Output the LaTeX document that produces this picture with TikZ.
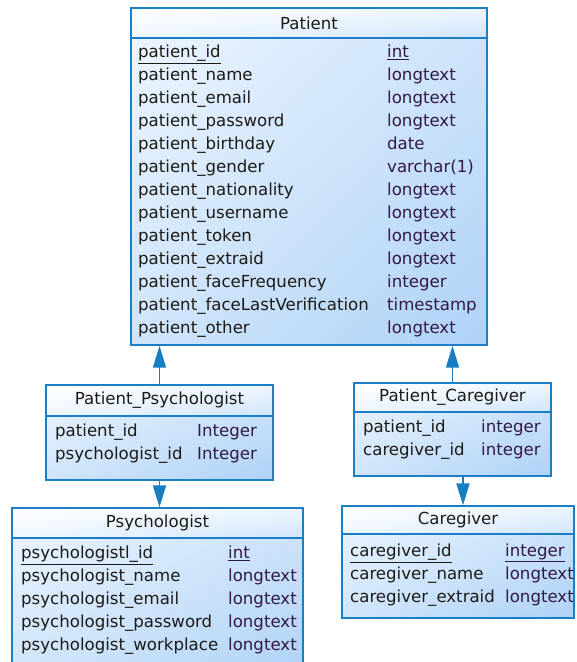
\documentclass[tikz,border=0pt]{standalone}
\usepackage{fontspec}
\setmainfont{DejaVu Sans}
\usetikzlibrary{arrows.meta,shadings}
\definecolor{tblline}{RGB}{28,126,196}
\definecolor{tblfillA}{RGB}{238,246,255}
\definecolor{tblfillB}{RGB}{208,229,251}
\definecolor{tblfillC}{RGB}{174,210,246}
\definecolor{fkblue}{RGB}{24,126,196}
\definecolor{colname}{RGB}{28,26,22}
\definecolor{coltype}{RGB}{50,24,70}
\begin{document}
\begin{tikzpicture}[x=1pt,y=1pt]
	\tikzstyle{every node}+=[inner sep=0pt, font=\fontsize{16.6}{19}\selectfont]
	\tikzstyle{tbl}=[draw=tblline, line width=1.4pt, upper left=tblfillA, upper right=tblfillB, lower left=tblfillB, lower right=tblfillC]
	\tikzstyle{hdr}=[tbl, anchor=north, text=colname, upper left=white, upper right=tblfillA, lower left=tblfillA, lower right=tblfillB]
	\tikzstyle{col}=[anchor=west, text height=15pt, text depth=4pt, text=colname]
	\tikzstyle{typ}=[col, text=coltype]
	\tikzstyle{link}=[draw=fkblue, line width=1.8pt, -{Triangle[length=22pt,width=13pt]}]
	\useasboundingbox (0,0) rectangle (577,-662);
	\node [tbl, minimum width=356pt, minimum height=337pt] (patient) at (309,-176.5) {};
	\node [hdr, minimum width=356pt, minimum height=30pt] (patienth) at (patient.north) {Patient};
	\node [col] (pa1) at (138,-52) {\underline{patient\_id}};
	\node [typ] (pa1t) at (387,-52) {\underline{int}};
	\node [col] (pa2) at (138,-75) {patient\_name};
	\node [typ] (pa2t) at (387,-75) {longtext};
	\node [col] (pa3) at (138,-98) {patient\_email};
	\node [typ] (pa3t) at (387,-98) {longtext};
	\node [col] (pa4) at (138,-121) {patient\_password};
	\node [typ] (pa4t) at (387,-121) {longtext};
	\node [col] (pa5) at (138,-144) {patient\_birthday};
	\node [typ] (pa5t) at (387,-144) {date};
	\node [col] (pa6) at (138,-167) {patient\_gender};
	\node [typ] (pa6t) at (387,-167) {varchar(1)};
	\node [col] (pa7) at (138,-190) {patient\_nationality};
	\node [typ] (pa7t) at (387,-190) {longtext};
	\node [col] (pa8) at (138,-213) {patient\_username};
	\node [typ] (pa8t) at (387,-213) {longtext};
	\node [col] (pa9) at (138,-236) {patient\_token};
	\node [typ] (pa9t) at (387,-236) {longtext};
	\node [col] (pa10) at (138,-259) {patient\_extraid};
	\node [typ] (pa10t) at (387,-259) {longtext};
	\node [col] (pa11) at (138,-282) {patient\_faceFrequency};
	\node [typ] (pa11t) at (387,-282) {integer};
	\node [col] (pa12) at (138,-305) {patient\_faceLastVerification};
	\node [typ] (pa12t) at (387,-305) {timestamp};
	\node [col] (pa13) at (138,-328) {patient\_other};
	\node [typ] (pa13t) at (387,-328) {longtext};
	\node [tbl, minimum width=227pt, minimum height=95pt] (patpsy) at (159.5,-432.5) {};
	\node [hdr, minimum width=227pt, minimum height=31pt] (patpsyh) at (patpsy.north) {Patient\_Psychologist};
	\node [col] (pp1) at (55,-431) {patient\_id};
	\node [typ] (pp1t) at (197,-431) {Integer};
	\node [col] (pp2) at (55,-454) {psychologist\_id};
	\node [typ] (pp2t) at (197,-454) {Integer};
	\node [tbl, minimum width=291pt, minimum height=172pt] (psych) at (157.5,-594) {};
	\node [hdr, minimum width=291pt, minimum height=30pt] (psychh) at (psych.north) {Psychologist};
	\node [col] (ps1) at (21,-553) {\underline{psychologistl\_id}};
	\node [typ] (ps1t) at (228,-553) {\underline{int}};
	\node [col] (ps2) at (21,-576) {psychologist\_name};
	\node [typ] (ps2t) at (228,-576) {longtext};
	\node [col] (ps3) at (21,-599) {psychologist\_email};
	\node [typ] (ps3t) at (228,-599) {longtext};
	\node [col] (ps4) at (21,-622) {psychologist\_password};
	\node [typ] (ps4t) at (228,-622) {longtext};
	\node [col] (ps5) at (21,-645) {psychologist\_workplace};
	\node [typ] (ps5t) at (228,-645) {longtext};
	\node [tbl, minimum width=197pt, minimum height=93pt] (patcare) at (452.5,-429.5) {};
	\node [hdr, minimum width=197pt, minimum height=29pt] (patcareh) at (patcare.north) {Patient\_Caregiver};
	\node [col] (pc1) at (363,-427) {patient\_id};
	\node [typ] (pc1t) at (481,-427) {integer};
	\node [col] (pc2) at (363,-450) {caregiver\_id};
	\node [typ] (pc2t) at (481,-450) {integer};
	\node [tbl, minimum width=232pt, minimum height=112pt] (care) at (458,-562) {};
	\node [hdr, minimum width=232pt, minimum height=28pt] (careh) at (care.north) {Caregiver};
	\node [col] (ca1) at (350,-551) {\underline{caregiver\_id}};
	\node [typ] (ca1t) at (505,-551) {\underline{integer}};
	\node [col] (ca2) at (350,-574) {caregiver\_name};
	\node [typ] (ca2t) at (505,-574) {longtext};
	\node [col] (ca3) at (350,-597) {caregiver\_extraid};
	\node [typ] (ca3t) at (505,-597) {longtext};
	\draw [link] (patpsyh.north) -- (patpsyh.north |- patient.south);
	\draw [link] (patcareh.north) -- (patcareh.north |- patient.south);
	\draw [link] (patpsy.south) -- (patpsy.south |- psychh.north);
	\draw [link] ([xshift=10.5pt]patcare.south) -- ([xshift=10.5pt]patcare.south |- careh.north);
\end{tikzpicture}
\end{document}
